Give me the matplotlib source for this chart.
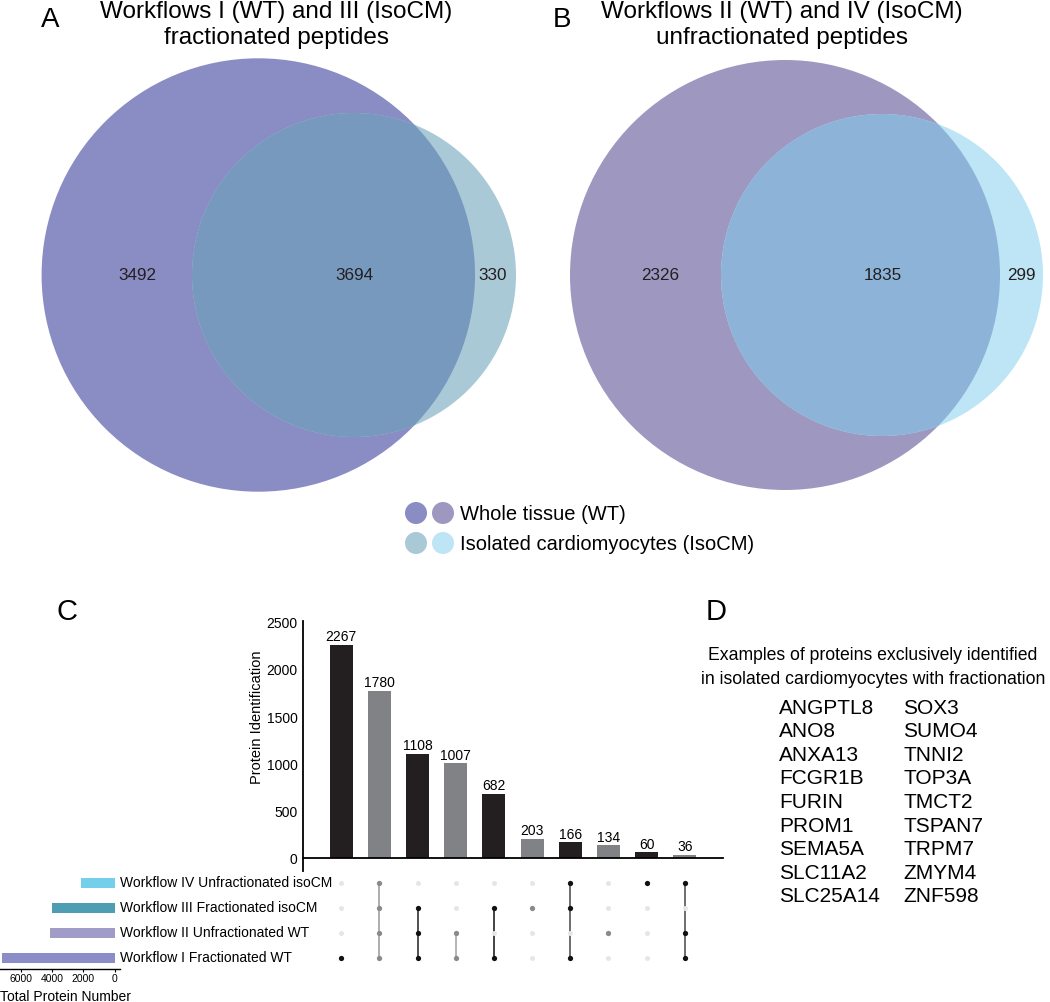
import matplotlib
matplotlib.use("Agg")
import matplotlib.pyplot as plt
from matplotlib.patches import Circle

plt.rcParams["font.family"] = ["Liberation Sans", "DejaVu Sans"]

# ---------------- data ----------------
venn_a_counts = [3492, 3694, 330]   # WT only, shared, IsoCM only (fractionated)
venn_b_counts = [2326, 1835, 299]   # WT only, shared, IsoCM only (unfractionated)
venn_a_title = ["Workflows I (WT) and III (IsoCM)", "fractionated peptides"]
venn_b_title = ["Workflows II (WT) and IV (IsoCM)", "unfractionated peptides"]
legend_labels = ["Whole tissue (WT)", "Isolated cardiomyocytes (IsoCM)"]

intersection_sizes = [2267, 1780, 1108, 1007, 682, 203, 166, 134, 60, 36]
intersection_sets = [
    ["I"],
    ["I", "II", "III", "IV"],
    ["I", "II", "III"],
    ["I", "II"],
    ["I", "III"],
    ["III"],
    ["I", "III", "IV"],
    ["II"],
    ["IV"],
    ["I", "II", "IV"],
]
set_keys = ["I", "II", "III", "IV"]
set_labels = ["Workflow I Fractionated WT", "Workflow II Unfractionated WT",
              "Workflow III Fractionated isoCM", "Workflow IV Unfractionated isoCM"]
set_totals = [7186, 4161, 4024, 2134]
total_ticks = [6000, 4000, 2000, 0]
bar_ticks = [0, 500, 1000, 1500, 2000, 2500]

d_header = ["Examples of proteins exclusively identified",
            "in isolated cardiomyocytes with fractionation"]
genes_col1 = ["ANGPTL8", "ANO8", "ANXA13", "FCGR1B", "FURIN", "PROM1",
              "SEMA5A", "SLC11A2", "SLC25A14"]
genes_col2 = ["SOX3", "SUMO4", "TNNI2", "TOP3A", "TMCT2", "TSPAN7",
              "TRPM7", "ZMYM4", "ZNF598"]

# ---------------- styles ----------------
W, H = 1050, 1002
C_BLACK = "#231F20"
C_GRAY = "#808285"
C_LIGHT = "#E6E6E6"
set_colors = ["#8B8DC8", "#A19CC7", "#4F9DB3", "#74CFEA"]
bar_colors = [C_BLACK, C_GRAY, C_BLACK, C_GRAY, C_BLACK,
              C_GRAY, C_BLACK, C_GRAY, C_BLACK, C_GRAY]
dot_colors = ["#111111", "#8A8A8A", "#111111", "#8A8A8A", "#111111",
              "#8A8A8A", "#111111", "#8A8A8A", "#111111", "#111111"]
line_colors = ["#111111", "#A0A0A0", "#333333", "#A8A8A8", "#222222",
               "#8A8A8A", "#555555", "#8A8A8A", "#111111", "#555555"]

fig = plt.figure(figsize=(W / 100, H / 100), dpi=100)


def px_axes(x0, y0, x1, y1):
    return fig.add_axes([x0 / W, 1 - y1 / H, (x1 - x0) / W, (y1 - y0) / H])


ov = px_axes(0, 0, W, H)
ov.set_xlim(0, W)
ov.set_ylim(H, 0)
ov.axis("off")


def venn(cx_big, cx_small, cy, r_big, r_small, c_big, c_small, c_over,
         counts, label_xs, title, title_x, letter, letter_x):
    big = Circle((cx_big, cy), r_big, fc=c_big, ec="none")
    ov.add_patch(big)
    small = Circle((cx_small, cy), r_small, fc=c_small, ec="none")
    ov.add_patch(small)
    over = Circle((cx_small, cy), r_small, fc=c_over, ec="none")
    ov.add_patch(over)
    over.set_clip_path(big)
    for n, x in zip(counts, label_xs):
        ov.text(x, cy, str(n), ha="center", va="center", fontsize=12.3,
                color="#231F20")
    ov.text(title_x, 18, title[0], ha="center", va="baseline", fontsize=17.5)
    ov.text(title_x, 44, title[1], ha="center", va="baseline", fontsize=17.5)
    ov.text(letter_x, 27, letter, ha="left", va="baseline", fontsize=20)


venn(258.3, 354, 275, 216.7, 162, "#8A8CC4", "#AAC9D6", "#7799BE",
     venn_a_counts, [137, 354, 493], venn_a_title, 276, "A", 41)
venn(785, 882, 275, 215, 161, "#9E98C1", "#BDE5F5", "#8DB4D8",
     venn_b_counts, [660, 883, 1021], venn_b_title, 782, "B", 553)

# legend
leg_cols = [["#8A8CC4", "#9E98C1"], ["#AAC9D6", "#BDE5F5"]]
for k, (lab, cols) in enumerate(zip(legend_labels, leg_cols)):
    y = 513 + 30 * k
    for j, c in enumerate(cols):
        ov.add_patch(Circle((416 + 27 * j, y), 11, fc=c, ec="none"))
    ov.text(460, y + 1, lab, ha="left", va="center", fontsize=14.5)

# panel letters C, D
ov.text(56, 620, "C", ha="left", va="baseline", fontsize=21)
ov.text(706, 620, "D", ha="left", va="baseline", fontsize=21)

# panel D text
for k, line in enumerate(d_header):
    ov.text(873, 655 + 25 * k, line, ha="center", va="center", fontsize=12.7)
for k, (g1, g2) in enumerate(zip(genes_col1, genes_col2)):
    y = 708 + 23.6 * k
    ov.text(779, y, g1, ha="left", va="center", fontsize=15)
    ov.text(903, y, g2, ha="left", va="center", fontsize=15)

# ---------------- UpSet: intersection bars ----------------
xs = list(range(len(intersection_sizes)))

axb = px_axes(303, 621.1, 723, 871.2)
axb.bar(xs, intersection_sizes, width=0.6, color=bar_colors)
for x, v in zip(xs, intersection_sizes):
    axb.text(x, v + 8, str(v), ha="center", va="bottom", fontsize=10)
axb.set_xlim(-1, 10)
axb.set_ylim(-140, 2520)
for s in ["top", "right"]:
    axb.spines[s].set_visible(False)
axb.spines["bottom"].set_position(("data", 0))
axb.spines["bottom"].set_linewidth(1.3)
axb.spines["left"].set_linewidth(1.3)
axb.set_xticks([])
axb.set_yticks(bar_ticks)
axb.tick_params(axis="y", length=0, pad=4, labelsize=10)
axb.set_ylabel("Protein Identification", fontsize=10.5)
axb.yaxis.set_label_coords(-0.093, 0.617)
axb.patch.set_alpha(0)

# ---------------- UpSet: matrix ----------------
axm = px_axes(303, 869, 723, 969)
axm.set_xlim(-1, 10)
axm.set_ylim(-0.44, 3.56)
axm.axis("off")
for x, members, dc, lc in zip(xs, intersection_sets, dot_colors, line_colors):
    rows = [set_keys.index(m) for m in members]
    absent = [r for r in range(4) if r not in rows]
    if len(rows) > 1:
        axm.plot([x, x], [min(rows), max(rows)], "-", color=lc, lw=1.2, zorder=1)
    axm.plot([x] * len(absent), absent, "o", ms=3.6, color=C_LIGHT, mec="none",
             zorder=2)
    axm.plot([x] * len(rows), rows, "o", ms=3.8, color=dc, mec="none", zorder=3)

# row labels
for r, lab in enumerate(set_labels):
    y = 958 - 25 * r
    ov.text(120, y, lab, ha="left", va="center", fontsize=10)

# ---------------- UpSet: set totals ----------------
axl = px_axes(0, 869, 120, 969)
axl.barh(range(4), set_totals, height=0.42, color=set_colors)
axl.set_xlim(7346, -340)
axl.set_ylim(-0.44, 3.56)
for s in ["top", "right", "left"]:
    axl.spines[s].set_visible(False)
axl.spines["bottom"].set_linewidth(1.0)
axl.set_yticks([])
axl.set_xticks(total_ticks)
axl.set_xticklabels([str(t) for t in total_ticks])
axl.tick_params(axis="x", length=2, pad=1.5, labelsize=7.5, width=0.8)
axl.patch.set_alpha(0)
ov.text(0, 997, "Total Protein Number", ha="left", va="center", fontsize=10)

fig.savefig("out.png", dpi=100)
